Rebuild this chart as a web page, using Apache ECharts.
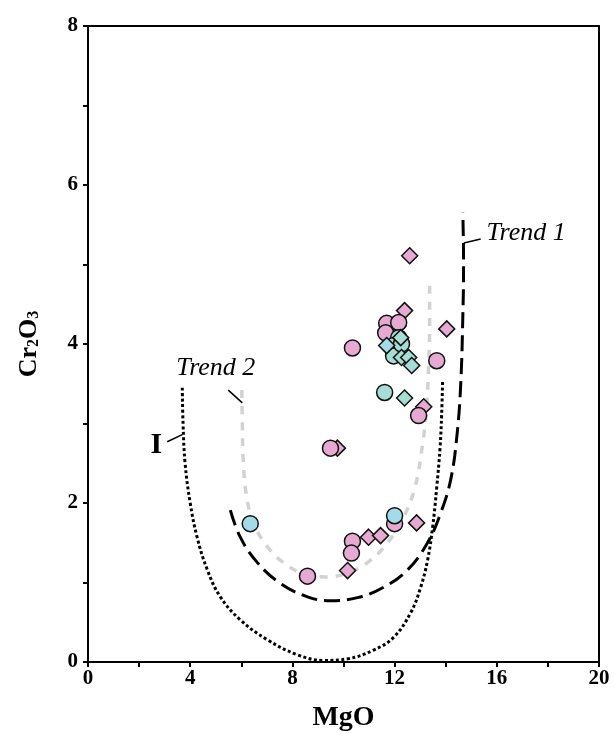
<!DOCTYPE html>
<html>
<head>
<meta charset="utf-8">
<script src="https://cdn.jsdelivr.net/npm/echarts@6/dist/echarts.min.js"></script>
<style>
  html, body { margin: 0; padding: 0; background: #fff; }
  #main { width: 615px; height: 734px; }
</style>
</head>
<body>
<div id="main"></div>
<script>
// 数据 (MgO, Cr2O3)
var pinkCircles = [[8.59, 1.08], [10.35, 1.52], [10.31, 1.37], [10.35, 3.95], [9.49, 2.69],
  [12.0, 1.74], [12.94, 3.10], [13.65, 3.79], [11.69, 4.26], [11.65, 4.14], [12.16, 4.27]];
var tealCircles = [[11.61, 3.39], [12.16, 4.08], [11.96, 3.98], [11.96, 3.85], [12.27, 4.0]];
var blueCircles = [[6.35, 1.74], [12.0, 1.84]];
var pinkDiamonds = [[12.59, 5.11], [12.39, 4.42], [12.12, 4.22], [14.04, 4.19], [13.14, 3.21],
  [9.76, 2.69], [10.98, 1.57], [11.45, 1.59], [12.86, 1.75], [10.16, 1.15]];
var tealDiamonds = [[12.27, 3.83], [12.55, 3.83], [12.67, 3.73], [12.24, 4.08], [12.39, 3.32]];
var blueDiamonds = [[11.69, 3.98]];

// 趋势线
var trend1 = [[5.57, 1.91], [5.96, 1.57], [6.63, 1.25], [7.53, 0.99], [8.59, 0.82], [9.49, 0.77],
  [10.55, 0.81], [11.57, 0.94], [12.51, 1.16], [13.29, 1.50], [13.8, 1.87], [14.2, 2.3],
  [14.45, 2.88], [14.59, 3.51], [14.67, 4.34], [14.7, 5.0], [14.67, 5.65]];
var trend2 = [[6.02, 3.42], [6.04, 3.0], [6.08, 2.5], [6.2, 2.1], [6.47, 1.75], [7.02, 1.45], [7.65, 1.25],
  [8.43, 1.11], [9.37, 1.07], [10.16, 1.12], [10.94, 1.25], [11.73, 1.50], [12.35, 1.82],
  [12.8, 2.2], [13.1, 2.75], [13.25, 3.2], [13.33, 3.71], [13.37, 4.25], [13.37, 4.78]];
var curveI = [[3.69, 3.45], [3.72, 3.0], [3.8, 2.5], [4.0, 2.0], [4.27, 1.57], [4.67, 1.16], [5.18, 0.82],
  [5.96, 0.53], [7.02, 0.28], [8.20, 0.09], [9.22, 0.02], [10.16, 0.04], [11.18, 0.15],
  [11.96, 0.31], [12.63, 0.62], [13.02, 0.94], [13.29, 1.28], [13.49, 1.70], [13.65, 2.2],
  [13.78, 2.7], [13.84, 3.1], [13.88, 3.55]];

// 标注
var leader1 = [[14.71, 5.27], [15.37, 5.32]];
var leader2 = [[5.49, 3.42], [6.04, 3.26]];
var leaderI = [[3.10, 2.77], [3.69, 2.86]];
var labels = [
  { value: [15.6, 5.40], name: 'Trend 1', italic: true },
  { value: [3.45, 3.70], name: 'Trend 2', italic: true },
  { value: [2.45, 2.73], name: 'I', italic: false }
];

var xTicks = [0, 4, 8, 12, 16, 20];
var yTicks = [0, 2, 4, 6, 8];

var serif = 'Liberation Serif';
var myChart = echarts.init(document.getElementById('main'));

function lineSeries(data, color, type, width, smooth) {
  return {
    type: 'line', data: data, smooth: smooth, symbol: 'none', z: 2,
    lineStyle: { color: color, width: width, type: type }
  };
}
function pointSeries(data, symbol, color, size) {
  return {
    type: 'scatter', data: data, symbol: symbol, symbolSize: size, z: 5,
    itemStyle: { color: color, borderColor: '#111', borderWidth: 1.5, opacity: 1 }
  };
}

var option = {
  animation: false,
  backgroundColor: '#fff',
  grid: { left: 88, right: 16, top: 26, bottom: 72, outerBoundsMode: 'none' },
  xAxis: [{
    type: 'value', min: 0, max: 20, interval: 2,
    name: 'MgO', nameLocation: 'middle', nameGap: 42,
    nameTextStyle: { fontFamily: serif, fontWeight: 'bold', fontSize: 28, color: '#000' },
    axisLine: { onZero: false, lineStyle: { color: '#000', width: 2 } },
    axisTick: { show: true, length: 5, lineStyle: { color: '#000', width: 2 } },
    axisLabel: {
      fontFamily: serif, fontWeight: 'bold', fontSize: 21, color: '#000', margin: 6,
      formatter: function (v) { return xTicks.indexOf(v) >= 0 ? String(v) : ''; }
    },
    splitLine: { show: false }
  }, {
    type: 'value', min: 0, max: 20, position: 'top',
    axisLine: { show: true, onZero: false, lineStyle: { color: '#000', width: 2 } },
    axisTick: { show: false }, axisLabel: { show: false }, splitLine: { show: false }
  }],
  yAxis: [{
    type: 'value', min: 0, max: 8, interval: 1,
    name: 'Cr{s|2}O{s|3}', nameLocation: 'middle', nameGap: 46, nameRotate: 90,
    nameTextStyle: {
      fontFamily: serif, fontWeight: 'bold', fontSize: 26, color: '#000',
      rich: { s: { fontFamily: serif, fontWeight: 'bold', fontSize: 16, color: '#000', padding: [10, 0, 0, 0] } }
    },
    axisLine: { onZero: false, lineStyle: { color: '#000', width: 2 } },
    axisTick: { show: true, length: 5, lineStyle: { color: '#000', width: 2 } },
    axisLabel: {
      fontFamily: serif, fontWeight: 'bold', fontSize: 21, color: '#000', margin: 10,
      formatter: function (v) { return yTicks.indexOf(v) >= 0 ? String(v) : ''; }
    },
    splitLine: { show: false }
  }, {
    type: 'value', min: 0, max: 8, position: 'right',
    axisLine: { show: true, onZero: false, lineStyle: { color: '#000', width: 2 } },
    axisTick: { show: false }, axisLabel: { show: false }, splitLine: { show: false }
  }],
  series: [
    lineSeries(curveI, '#000', [3, 2.5], 3, 0.4),
    lineSeries(trend2, '#d2d2d2', [8, 8], 3.5, 0.4),
    lineSeries(trend1, '#000', [16, 7], 3, 0.4),
    lineSeries(leader1, '#000', 'solid', 1.5, false),
    lineSeries(leader2, '#000', 'solid', 1.5, false),
    lineSeries(leaderI, '#000', 'solid', 1.5, false),
    pointSeries(pinkDiamonds, 'diamond', '#e6aad2', 16),
    pointSeries(pinkCircles, 'circle', '#e6aad2', 16),
    pointSeries(tealCircles, 'circle', '#a6ddd4', 16),
    pointSeries(tealDiamonds, 'diamond', '#a6ddd4', 16),
    pointSeries(blueCircles, 'circle', '#a3dbe8', 16),
    pointSeries(blueDiamonds, 'diamond', '#a3dbe8', 16),
    {
      type: 'scatter', symbolSize: 0, z: 6, itemStyle: { opacity: 1 },
      data: labels.map(function (d) {
        return {
          value: d.value,
          label: {
            show: true, position: 'right', distance: 0, formatter: d.name,
            fontFamily: serif, color: '#000', opacity: 1, textBorderWidth: 0,
            fontStyle: d.italic ? 'italic' : 'normal',
            fontWeight: d.italic ? 'normal' : 'bold',
            fontSize: d.italic ? 26 : 30
          }
        };
      })
    }
  ]
};

myChart.setOption(option);
</script>
</body>
</html>
